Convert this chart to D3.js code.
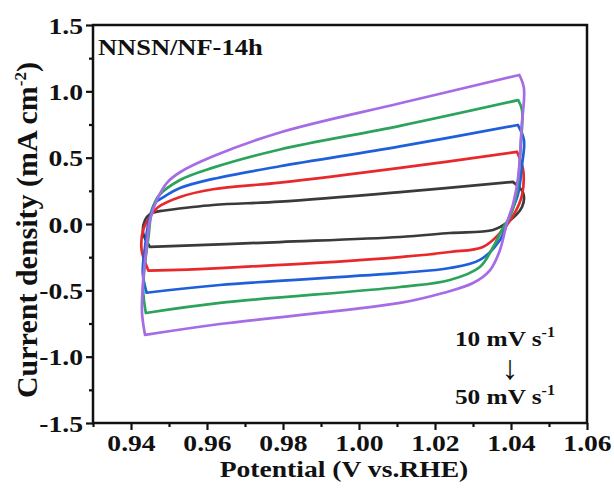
<!DOCTYPE html>
<html>
<head>
<meta charset="utf-8">
<script src="https://cdn.jsdelivr.net/npm/d3@7"></script>
<style>
  html, body { margin: 0; padding: 0; background: #fff; }
  svg { display: block; }
  text { font-family: "Liberation Serif", "Times New Roman", serif; font-weight: bold; fill: #111; }
</style>
</head>
<body>
<svg id="chart" width="614" height="490"></svg>
<script>
// Cyclic voltammograms of NNSN/NF-14h at scan rates 10–50 mV/s
// Each loop: [potential (V vs. RHE), current density (mA cm^-2)], traversed once and closed.
const cv10 = [[0.9450,-0.173],[0.9432,-0.070],[0.9437,0.030],[0.9450,0.075],[0.9472,0.095],[0.9484,0.100],[0.9616,0.143],[0.9792,0.168],[1.0108,0.240],[1.0405,0.317],[1.0432,0.234],[1.0429,0.128],[1.0389,0.008],[1.0353,-0.045],[1.0239,-0.068],[1.0108,-0.098],[0.9792,-0.136],[0.9450,-0.173]];
const cv20 = [[0.9446,-0.352],[0.9428,-0.196],[0.9432,-0.045],[0.9450,0.055],[0.9472,0.128],[0.9529,0.204],[0.9616,0.262],[0.9792,0.312],[1.0108,0.423],[1.0416,0.543],[1.0432,0.407],[1.0429,0.219],[1.0411,0.090],[1.0371,-0.068],[1.0326,-0.173],[1.0239,-0.211],[1.0108,-0.249],[0.9634,-0.332],[0.9446,-0.352]];
const cv30 = [[0.9441,-0.518],[0.9431,-0.370],[0.9437,-0.171],[0.9446,0.008],[0.9463,0.158],[0.9484,0.200],[0.9529,0.271],[0.9616,0.340],[0.9792,0.435],[1.0108,0.585],[1.0418,0.746],[1.0434,0.633],[1.0429,0.445],[1.0418,0.219],[1.0397,0.068],[1.0371,-0.121],[1.0318,-0.271],[1.0239,-0.332],[1.0108,-0.369],[0.9634,-0.460],[0.9441,-0.518]];
const cv40 = [[0.9439,-0.671],[0.9432,-0.497],[0.9437,-0.294],[0.9446,-0.098],[0.9454,0.083],[0.9472,0.210],[0.9529,0.332],[0.9616,0.425],[0.9792,0.562],[1.0108,0.740],[1.0419,0.934],[1.0429,0.859],[1.0426,0.610],[1.0415,0.234],[1.0397,0.053],[1.0380,-0.023],[1.0353,-0.173],[1.0318,-0.324],[1.0239,-0.422],[1.0108,-0.475],[0.9634,-0.595],[0.9439,-0.671]];
const cv50 = [[0.9437,-0.836],[0.9429,-0.671],[0.9432,-0.422],[0.9441,-0.173],[0.9450,0.030],[0.9468,0.181],[0.9494,0.309],[0.9529,0.390],[0.9616,0.510],[0.9792,0.690],[1.0108,0.910],[1.0422,1.123],[1.0434,1.023],[1.0428,0.733],[1.0419,0.356],[1.0406,0.156],[1.0389,0.005],[1.0371,-0.196],[1.0345,-0.347],[1.0300,-0.445],[1.0221,-0.520],[1.0108,-0.595],[0.9634,-0.754],[0.9437,-0.836]];

const scanRates = [10, 20, 30, 40, 50];
const loops = [cv10, cv20, cv30, cv40, cv50];
const colors = ["#3a3a3a", "#e8282b", "#1f5fdb", "#2ba35b", "#a56ce6"];

const xTicks = [0.94, 0.96, 0.98, 1.00, 1.02, 1.04, 1.06];
const xMinor = [0.93, 0.95, 0.97, 0.99, 1.01, 1.03, 1.05];
const yTicks = [-1.5, -1.0, -0.5, 0.0, 0.5, 1.0, 1.5];
const yMinor = [-1.25, -0.75, -0.25, 0.25, 0.75, 1.25];

const W = 614, H = 490;
const m = { left: 93, right: 27, top: 25, bottom: 67 };
const svg = d3.select("#chart");

// text in this figure is set slightly wide
const STRETCH = 1.15;
function widen(sel) {
  sel.each(function () {
    const len = this.getComputedTextLength();
    d3.select(this).attr("textLength", len * STRETCH).attr("lengthAdjust", "spacingAndGlyphs");
  });
}

const x = d3.scaleLinear().domain([0.93, 1.06]).range([m.left, W - m.right]);
const y = d3.scaleLinear().domain([-1.5, 1.5]).range([H - m.bottom, m.top]);

// curves: anodic and cathodic branches are smoothed separately so the switching corners stay sharp
const line = d3.line()
  .x(d => x(d[0]))
  .y(d => y(d[1]))
  .curve(d3.curveCatmullRom.alpha(0.5));

function loopPath(pts) {
  const k = d3.maxIndex(pts, d => d[1]);
  return line(pts.slice(0, k + 1)) + line(pts.slice(k));
}

svg.append("g")
  .selectAll("path")
  .data(loops)
  .join("path")
  .attr("d", loopPath)
  .attr("fill", "none")
  .attr("stroke", (d, i) => colors[i])
  .attr("stroke-width", 2.7)
  .attr("stroke-linejoin", "round")
  .attr("stroke-linecap", "round");

// axes
const fmtX = d3.format(".2f");
const fmtY = v => d3.format(".1f")(v).replace("−", "-");

const xAxis = svg.append("g").attr("transform", `translate(0,${H - m.bottom})`)
  .call(d3.axisBottom(x).tickValues(xTicks).tickFormat(fmtX).tickSize(7).tickSizeOuter(0));
const xAxisMinor = svg.append("g").attr("transform", `translate(0,${H - m.bottom})`)
  .call(d3.axisBottom(x).tickValues(xMinor).tickFormat("").tickSize(4).tickSizeOuter(0));
const yAxis = svg.append("g").attr("transform", `translate(${m.left},0)`)
  .call(d3.axisLeft(y).tickValues(yTicks).tickFormat(fmtY).tickSize(7).tickSizeOuter(0));
const yAxisMinor = svg.append("g").attr("transform", `translate(${m.left},0)`)
  .call(d3.axisLeft(y).tickValues(yMinor).tickFormat("").tickSize(4).tickSizeOuter(0));

[xAxis, xAxisMinor, yAxis, yAxisMinor].forEach(g => {
  g.select(".domain").remove();
  g.selectAll("line").attr("stroke", "#111").attr("stroke-width", 2.2);
  g.selectAll("text").attr("font-family", null).attr("font-size", null)
    .style("font-family", "'Liberation Serif', serif").style("font-weight", "bold")
    .style("font-size", "24px").attr("fill", "#111");
});
xAxis.selectAll("text").attr("y", 11).attr("dy", "0.71em");
yAxis.selectAll("text").attr("x", -10).attr("dy", "0.34em");
widen(xAxis.selectAll("text"));
widen(yAxis.selectAll("text"));

// frame
svg.append("rect")
  .attr("x", m.left).attr("y", m.top)
  .attr("width", W - m.left - m.right).attr("height", H - m.top - m.bottom)
  .attr("fill", "none").attr("stroke", "#111").attr("stroke-width", 2.5);

// sample label
svg.append("text").attr("x", m.left + 5).attr("y", 55)
  .attr("font-size", 23).text("NNSN/NF-14h").call(widen);

// axis titles
svg.append("text").attr("x", (m.left + W - m.right) / 2 + 4).attr("y", 477)
  .attr("text-anchor", "middle").attr("font-size", 24).text("Potential (V vs.RHE)").call(widen);

const yt = svg.append("text")
  .attr("transform", `translate(37,${(m.top + H - m.bottom) / 2 + 6}) rotate(-90)`)
  .attr("text-anchor", "middle").attr("font-size", 30);
yt.append("tspan").text("Current density (mA cm");
yt.append("tspan").attr("font-size", 17).attr("dy", -11).text("-2");
yt.append("tspan").attr("dy", 11).text(")");

// scan-rate annotation
function rateLabel(cy, rate) {
  const t = svg.append("text").attr("x", 505).attr("y", cy)
    .attr("text-anchor", "middle").attr("font-size", 22);
  t.append("tspan").text(`${rate} mV s`);
  t.append("tspan").attr("font-size", 14).attr("dy", -9).text("-1");
  widen(t);
}
rateLabel(346, scanRates[0]);
svg.append("text").attr("x", 510).attr("y", 379).attr("text-anchor", "middle")
  .attr("font-size", 34).style("font-weight", "normal").text("↓");
rateLabel(404, scanRates[scanRates.length - 1]);
</script>
</body>
</html>
